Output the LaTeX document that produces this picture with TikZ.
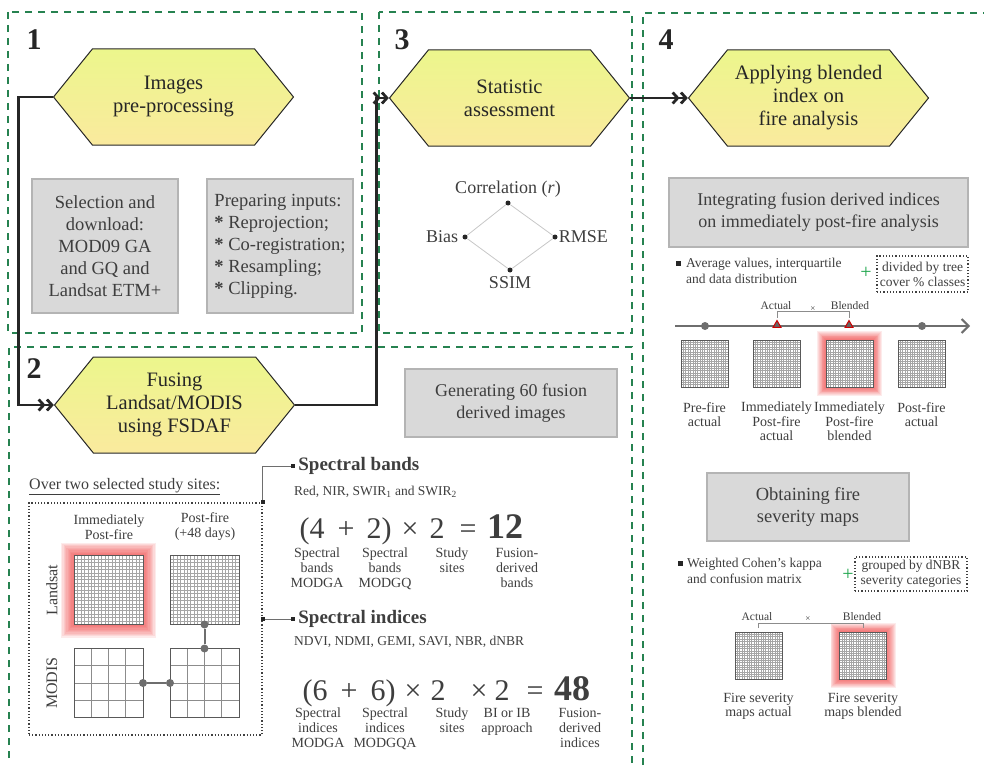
\documentclass[tikz,border=0pt]{standalone}
\usepackage{fontspec}
\setmainfont{Liberation Serif}
\usetikzlibrary{arrows.meta,positioning,calc,shapes.symbols,shapes.geometric}
\definecolor{panelgreen}{RGB}{38,130,80}
\definecolor{boxgray}{RGB}{217,217,217}
\definecolor{boxedge}{RGB}{180,180,180}
\definecolor{hextop}{RGB}{236,246,140}
\definecolor{hexbot}{RGB}{250,234,158}
\definecolor{inkgray}{RGB}{62,62,62}
\definecolor{linkgray}{RGB}{110,110,110}
\definecolor{plusgreen}{RGB}{30,165,75}
\definecolor{glowred}{RGB}{238,55,55}
\newcommand{\setsz}[2]{\fontsize{#1}{#2}\selectfont}
% grid of cells inside an (empty) square node
\newcommand{\gridcells}[3][]{%
  \fill[white] (#2.north west) rectangle (#2.south east);
  \pgfmathtruncatemacro{\ncut}{#3-1}%
  \foreach \k in {1,...,\ncut}{%
    \pgfmathsetmacro{\fr}{\k/#3}%
    \draw[cellline,#1] ($(#2.north west)!\fr!(#2.north east)$) -- ($(#2.south west)!\fr!(#2.south east)$);
    \draw[cellline,#1] ($(#2.north west)!\fr!(#2.south west)$) -- ($(#2.north east)!\fr!(#2.south east)$);
  }
  \draw[sqedge] (#2.north west) rectangle (#2.south east);}
% soft red halo round a square node
\newcommand{\redglow}[2]{%
  \foreach \g in {1,...,10}{%
    \fill[glowred,opacity=0.1] ($(#1.north west)+(-\g*#2/10,-\g*#2/10)$) rectangle ($(#1.south east)+(\g*#2/10,\g*#2/10)$);}}

\begin{document}
\begin{tikzpicture}[x=1pt,y=-1pt,
  panel/.style={draw=panelgreen,line width=2.6pt,dash pattern=on 7pt off 6pt},
  hexa/.style={signal,signal to=east and west,signal pointer angle=102,draw=black!85,line width=1pt,
    top color=hextop,bottom color=hexbot,minimum width=240pt,minimum height=96pt,inner sep=0pt,
    align=center,text=black!85,font=\setsz{20.5}{23}},
  graybox/.style={draw=boxedge,line width=1.3pt,fill=boxgray,text=inkgray,align=center,inner sep=0pt},
  stepno/.style={font=\setsz{30}{30}\bfseries,text=black!85,inner sep=0pt},
  flow/.style={line width=2.8pt,black!85,-{Straight Barb[length=5pt,width=11pt]Straight Barb[length=5pt,width=11pt]}},
  sdot/.style={circle,fill=black!85,minimum size=5pt,inner sep=0pt},
  thinline/.style={draw=black!22,line width=0.8pt},
  mlab/.style={font=\setsz{18}{20},text=inkgray,inner sep=1pt},
  dotbox/.style={draw=black!75,line width=1.2pt,dotted,inner sep=0pt,align=center,text=inkgray,font=\setsz{13.5}{15}},
  collab/.style={font=\setsz{14}{15},text=inkgray,align=center,inner sep=0pt},
  rowlab/.style={font=\setsz{16}{16},text=inkgray,inner sep=0pt},
  imgsq/.style={inner sep=0pt,outer sep=0pt,minimum size=#1},
  cellline/.style={draw=black!35,line width=0.45pt},
  sqedge/.style={draw=black!65,line width=1pt},
  jdot/.style={circle,fill=linkgray,minimum size=8pt,inner sep=0pt},
  jline/.style={draw=linkgray,line width=2pt},
  knot/.style={fill=black!85,minimum size=4pt,inner sep=0pt},
  link/.style={draw=linkgray,line width=0.9pt},
  head/.style={font=\setsz{19}{20}\bfseries,text=inkgray,inner sep=0pt},
  small/.style={font=\setsz{13.5}{15},text=inkgray,inner sep=0pt},
  eqtok/.style={font=\setsz{30}{30},text=inkgray,inner sep=0pt,anchor=base},
  eqbig/.style={eqtok,font=\setsz{36}{36}\bfseries},
  eqlab/.style={font=\setsz{14}{15},text=inkgray,align=center,inner sep=0pt,anchor=north},
  bul/.style={fill=black!85,minimum size=5pt,inner sep=0pt},
  note/.style={font=\setsz{13.5}{16.5},text=inkgray,align=left,inner sep=0pt},
  plus/.style={text=plusgreen,font=\setsz{20}{20},inner sep=0pt},
  tline/.style={draw=linkgray,line width=2pt,-{Straight Barb[length=7pt,width=14pt]}},
  tdot/.style={circle,fill=linkgray,minimum size=8pt,inner sep=0pt},
  tri/.style={regular polygon,regular polygon sides=3,fill=black!60,draw=red!80!black,line width=1pt,minimum size=9pt,inner sep=0pt},
  bracket/.style={draw=black!45,line width=0.8pt},
  tinylab/.style={font=\setsz{11.5}{12},text=inkgray,inner sep=0pt},
  sqlab/.style={font=\setsz{14}{14.5},text=inkgray,align=center,inner sep=0pt,anchor=north},
]
\useasboundingbox (0,0) rectangle (984,765);

% dashed frames of the four stages
\draw[panel] (8,12) rectangle (362,333);
\draw[panel] (379,12) rectangle (632,333);
\draw[panel] (643,765) -- (643,13) -- (990,13);
\draw[panel] (9,758) -- (9,347) -- (632,347) -- (632,765);
\node[stepno] (n1) at (34,40) {1};
\node[stepno] (n2) at (34,369) {2};
\node[stepno] (n3) at (402,40) {3};
\node[stepno] (n4) at (666,40) {4};

% main flow
\node[hexa] (h1) at (173.5,97) {Images\\pre-processing};
\node[hexa] (h2) at (174.5,405) {Fusing\\Landsat/MODIS\\using FSDAF};
\node[hexa] (h3) at (509.5,98) {Statistic\\assessment};
\node[hexa] (h4) at (808.5,98) {Applying blended\\index on\\fire analysis};
\draw[flow] (h1.west) -- ++(-34,0) |- (h2.west);
\draw[flow] (h2.east) -- ++(81,0) |- (h3.west);
\draw[flow] (h3.east) -- (h4.west);

% stage 1
\node[graybox,minimum width=146pt,minimum height=134pt,font=\setsz{18.5}{22}] (sel) at (105,246)
  {Selection and\\download:\\MOD09 GA\\and GQ and\\Landsat ETM+};
\node[graybox,minimum width=146pt,minimum height=134pt,font=\setsz{18.5}{22},align=left] (prep) at (280,246)
  {Preparing inputs:\\\textbf{*} Reprojection;\\\textbf{*} Co-registration;\\\textbf{*} Resampling;\\\textbf{*} Clipping.};

% stage 3
\node[sdot] (cor) at (508,203) {};
\node[sdot] (bia) at (465,237) {};
\node[sdot] (rms) at (555,237) {};
\node[sdot] (ssi) at (510,270) {};
\draw[thinline] (cor) -- (rms) -- (ssi) -- (bia) -- (cor);
\node[mlab,above=2pt of cor] {Correlation (\textit{r})};
\node[mlab,left=3pt of bia] {Bias};
\node[mlab,right=0pt of rms] {RMSE};
\node[mlab,below=3pt of ssi] {SSIM};

% stage 2
\node[graybox,minimum width=212pt,minimum height=68pt,font=\setsz{18}{22}] (gen) at (511,403)
  {Generating 60 fusion\\derived images};
\node[font=\setsz{16}{18},text=inkgray,inner sep=0pt,anchor=west] (over) at (29,487) {\underline{Over two selected study sites:}};
\node[dotbox,minimum width=233pt,minimum height=232pt] (sites) at (145.5,619) {};
\node[collab] (cA) at (109,527) {Immediately\\Post-fire};
\node[collab] (cB) at (205,527) {Post-fire\\(+48 days)};
\node[rowlab,rotate=90] (rL) at (52,590) {Landsat};
\node[rowlab,rotate=90] (rM) at (52,683) {MODIS};
\node[imgsq=69pt] (lsA) at (108.5,590) {};
\redglow{lsA}{13}
\gridcells{lsA}{20}
\node[imgsq=69pt] (lsB) at (204.5,590) {};
\gridcells{lsB}{20}
\node[imgsq=69pt] (mdA) at (108.5,683) {};
\gridcells[line width=0.9pt,draw=black!45]{mdA}{4}
\node[imgsq=69pt] (mdB) at (204.5,683) {};
\gridcells[line width=0.9pt,draw=black!45]{mdB}{4}
\node[jdot] (jA) at (lsB.south) {};
\node[jdot] (jB) at (mdB.north) {};
\node[jdot] (jC) at (mdA.east) {};
\node[jdot] (jD) at (mdB.west) {};
\draw[jline] (jA) -- (jB);
\draw[jline] (jC) -- (jD);

\node[knot] (kA) at (sites.north east) {};
\node[knot] (kB) at (sites.east) {};
\node[knot] (bA) at (293,466) {};
\node[knot] (bB) at (293,619) {};
\draw[link] (kA) |- (bA);
\draw[link] (kB) -- (bB);
\node[head,right=3pt of bA] (sb) {Spectral bands};
\node[small,anchor=west] (sbl) at (294,492) {Red, NIR, SWIR\textsubscript{1} and SWIR\textsubscript{2}};
\node[head,right=3pt of bB] (si) {Spectral indices};
\node[small,anchor=west] (sil) at (294,642) {NDVI, NDMI, GEMI, SAVI, NBR, dNBR};

% bands count
\node[eqtok] (e1a) at (312,538) {(4};
\node[eqtok] (e1b) at (346,538) {+};
\node[eqtok] (e1c) at (379,538) {2)};
\node[eqtok] (e1d) at (410,538) {×};
\node[eqtok] (e1e) at (437,538) {2};
\node[eqtok] (e1f) at (468,538) {=};
\node[eqbig] (e1g) at (505,538) {12};
\node[eqlab] at (317,548) {Spectral\\bands\\MODGA};
\node[eqlab] at (385,548) {Spectral\\bands\\MODGQ};
\node[eqlab] at (452,548) {Study\\sites};
\node[eqlab] at (517,548) {Fusion-\\derived\\bands};

% indices count
\node[eqtok] (e2a) at (315,700) {(6};
\node[eqtok] (e2b) at (349,700) {+};
\node[eqtok] (e2c) at (383,700) {6)};
\node[eqtok] (e2d) at (413,700) {×};
\node[eqtok] (e2e) at (438,700) {2};
\node[eqtok] (e2f) at (479,700) {×};
\node[eqtok] (e2g) at (502,700) {2};
\node[eqtok] (e2h) at (535,700) {=};
\node[eqbig] (e2i) at (572,700) {48};
\node[eqlab] at (318,708) {Spectral\\indices\\MODGA};
\node[eqlab] at (385,708) {Spectral\\indices\\MODGQA};
\node[eqlab] at (452,708) {Study\\sites};
\node[eqlab] at (507,708) {BI or IB\\approach};
\node[eqlab] at (580,708) {Fusion-\\derived\\indices};

% stage 4, post-fire analysis
\node[graybox,minimum width=299pt,minimum height=69pt,font=\setsz{18}{22}] (integ) at (818.5,212.5)
  {Integrating fusion derived indices\\on immediately post-fire analysis};
\node[bul] (u1) at (678,263) {};
\node[note,anchor=west] (t1) at (686,271) {Average values, interquartile\\and data distribution};
\node[plus] (p1) at (866,273) {+};
\node[dotbox,minimum width=91pt,minimum height=36pt] (d1) at (922.5,274) {divided by tree\\cover \% classes};
\coordinate (tl0) at (675,326);
\coordinate (tl1) at (970,326);
\draw[tline] (tl0) -- (tl1);
\node[tdot] (tdA) at (705,326) {};
\node[tdot] (tdB) at (922,326) {};
\node[tri] (trA) at (777,325) {};
\node[tri] (trB) at (849,325) {};
\draw[bracket] ([yshift=2pt]trA.north) -- ++(0,-6) -| ([yshift=2pt]trB.north);
\node[tinylab] at (776,306) {Actual};
\node[tinylab] at (850,306) {Blended};
\node[tinylab,font=\setsz{9}{9}] at (813,309) {×};
\node[imgsq=47pt] (qA) at (704.5,363.5) {};
\gridcells{qA}{20}
\node[imgsq=47pt] (qB) at (776.5,363.5) {};
\gridcells{qB}{20}
\node[imgsq=47pt] (qC) at (849.5,363.5) {};
\redglow{qC}{9}
\gridcells{qC}{20}
\node[imgsq=47pt] (qD) at (921.5,363.5) {};
\gridcells{qD}{20}
\node[sqlab,below=15pt of qA] {Pre-fire\\actual};
\node[sqlab,below=15pt of qB] {Immediately\\Post-fire\\actual};
\node[sqlab,below=15pt of qC] {Immediately\\Post-fire\\blended};
\node[sqlab,below=15pt of qD] {Post-fire\\actual};

% stage 4, severity maps
\node[graybox,minimum width=202pt,minimum height=68pt,font=\setsz{18.5}{22}] (obt) at (808,507)
  {Obtaining fire\\severity maps};
\node[bul] (u2) at (680,563) {};
\node[note,anchor=west] (t2) at (687,571) {Weighted Cohen’s kappa\\and confusion matrix};
\node[plus] (p2) at (848,575) {+};
\node[dotbox,minimum width=112pt,minimum height=34pt] (d2) at (911,574) {grouped by dNBR\\severity categories};
\node[imgsq=47pt] (fsA) at (758.5,655.5) {};
\gridcells{fsA}{20}
\node[imgsq=47pt] (fsB) at (863,655.5) {};
\redglow{fsB}{9}
\gridcells{fsB}{20}
\draw[bracket] ([yshift=4pt]fsA.north) -- ++(0,-5) -| ([yshift=4pt]fsB.north);
\node[tinylab] at (757,617) {Actual};
\node[tinylab] at (862,617) {Blended};
\node[tinylab,font=\setsz{9}{9}] at (808,619) {×};
\node[sqlab,below=14pt of fsA] {Fire severity\\maps actual};
\node[sqlab,below=14pt of fsB] {Fire severity\\maps blended};
\end{tikzpicture}
\end{document}
